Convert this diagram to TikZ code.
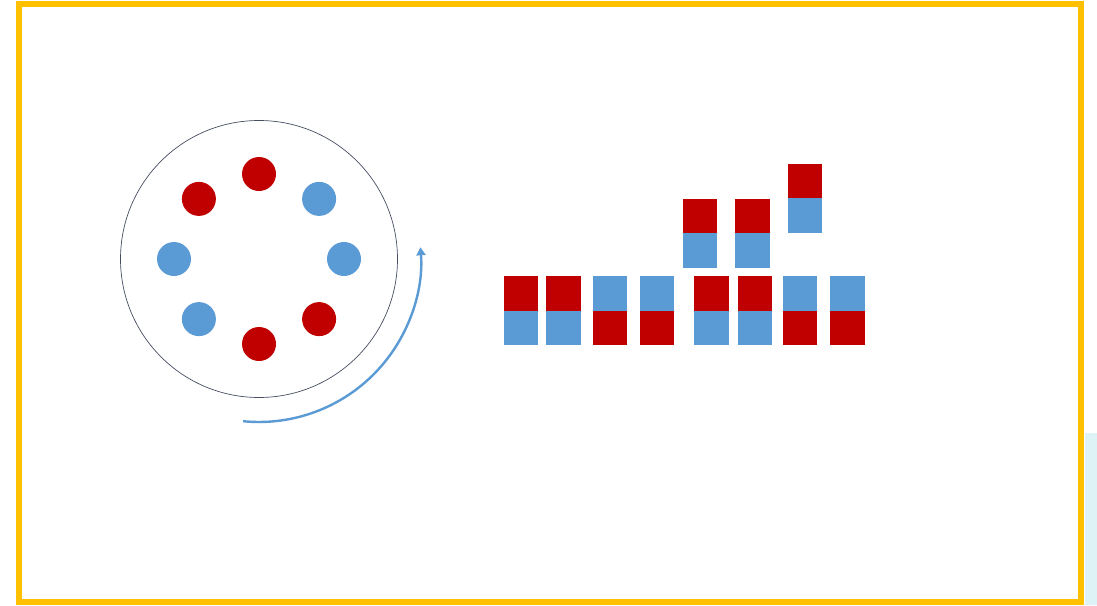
\documentclass[tikz,border=0pt]{standalone}
\usetikzlibrary{arrows.meta,calc}
\definecolor{fr}{RGB}{255,192,0}
\definecolor{rd}{RGB}{192,0,0}
\definecolor{bl}{RGB}{91,155,213}
\definecolor{ring}{RGB}{70,78,96}
\definecolor{cy}{RGB}{222,243,246}
\begin{document}
\begin{tikzpicture}[x=1pt,y=-1pt,
  dot/.style={circle,inner sep=0pt,minimum size=34pt,draw=none},
  half/.style={rectangle,inner sep=0pt,minimum width=34.5pt,minimum height=34.5pt,draw=none,anchor=north west},
  rh/.style={half,fill=rd},
  bh/.style={half,fill=bl}]
\useasboundingbox (0,0) rectangle (1097,605);
\fill[white] (0,0) rectangle (1097,605);
\fill[cy] (1085,433) rectangle (1097,605);
% frame
\draw[fr,line width=6pt] (19,3.5) rectangle (1080.5,602);
% big circle
\coordinate (c) at (259,259);
\node[circle,draw=ring,line width=0.7pt,minimum size=277pt,inner sep=0pt] (big) at (c) {};
% dots
\node[dot,fill=rd] (d1) at ($(c)+(-90:85)$) {};
\node[dot,fill=bl] (d2) at ($(c)+(-45:85)$) {};
\node[dot,fill=bl] (d3) at ($(c)+(0:85)$) {};
\node[dot,fill=rd] (d4) at ($(c)+(45:85)$) {};
\node[dot,fill=rd] (d5) at ($(c)+(90:85)$) {};
\node[dot,fill=bl] (d6) at ($(c)+(135:85)$) {};
\node[dot,fill=bl] (d7) at ($(c)+(180:85)$) {};
\node[dot,fill=rd] (d8) at ($(c)+(-135:85)$) {};
% rotation arrow
\coordinate (as) at ($(c)+(95.6:163)$);
\draw[bl,line width=2.4pt,-{Triangle[length=8pt,width=9pt]}] (as) arc[start angle=95.6,end angle=-4.5,radius=162];
% bottom row
\foreach \i/\x/\t in {1/503.3/r,2/546/r,3/592.3/b,4/639.3/b,5/694/r,6/737.3/r,7/782.7/b,8/830/b}{
  \if r\t
    \node[rh] (t\i) at (\x,276) {};
    \node[bh] (u\i) at (\x,310.5) {};
  \else
    \node[bh] (t\i) at (\x,276) {};
    \node[rh] (u\i) at (\x,310.5) {};
  \fi
}
% upper blocks
\node[rh] (ta) at (682.7,198.3) {};
\node[bh] (ua) at (682.7,232.8) {};
\node[rh] (tb) at (735,198.3) {};
\node[bh] (ub) at (735,232.8) {};
\node[rh] (tc) at (787.3,163.3) {};
\node[bh] (uc) at (787.3,197.8) {};
\end{tikzpicture}
\end{document}
